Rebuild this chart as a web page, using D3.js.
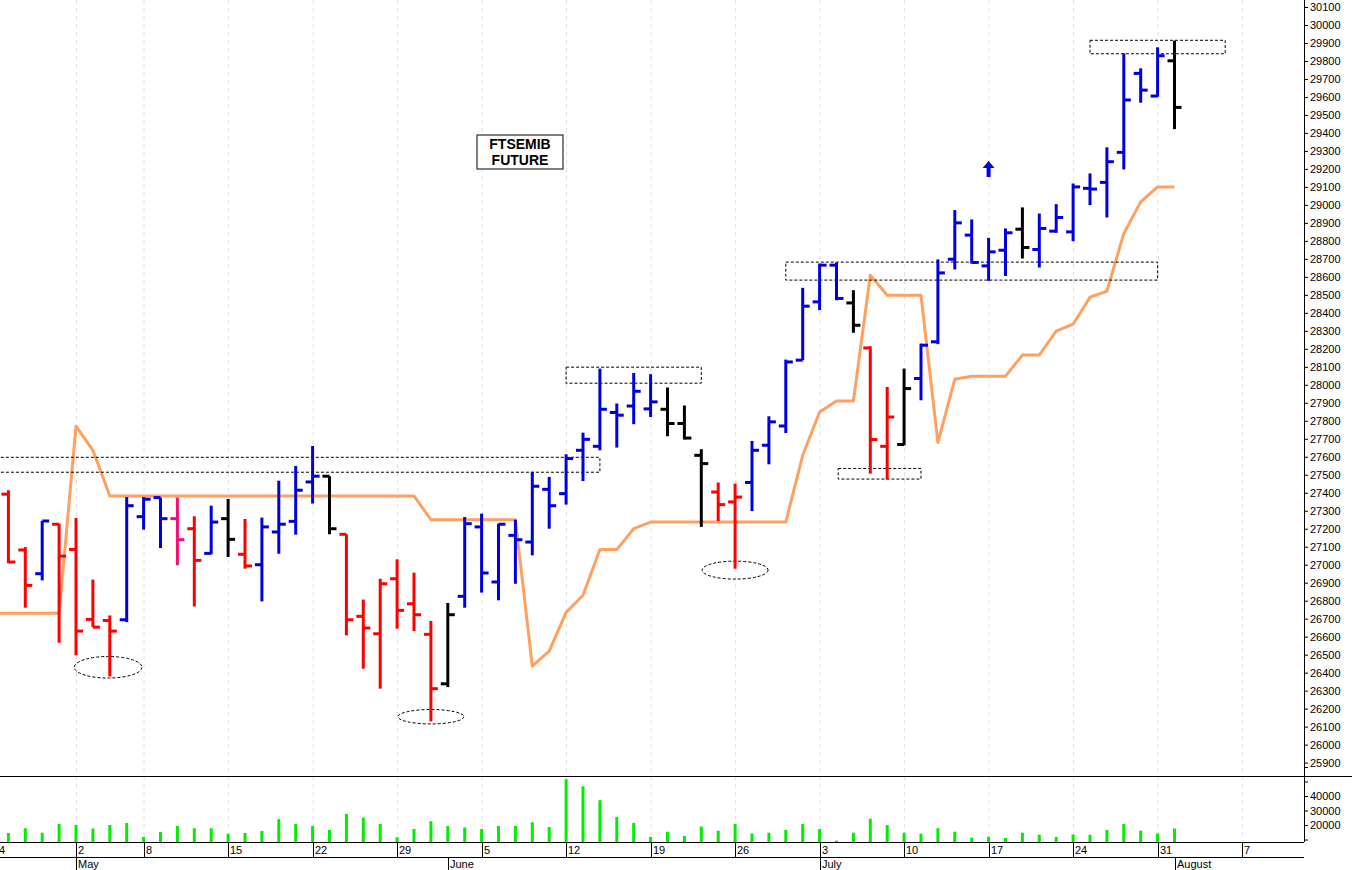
<!DOCTYPE html>
<html>
<head>
<meta charset="utf-8">
<script src="https://cdn.jsdelivr.net/npm/d3@7"></script>
<style>
body { margin: 0; background: #fff; }
text { font-family: "Liberation Sans", Arial, sans-serif; }
</style>
</head>
<body>
<div id="chart"></div>
<script>
// trading days (May 1 holiday skipped)
var dates = ["2017-04-24","2017-04-25","2017-04-26","2017-04-27","2017-04-28",
  "2017-05-02","2017-05-03","2017-05-04","2017-05-05",
  "2017-05-08","2017-05-09","2017-05-10","2017-05-11","2017-05-12",
  "2017-05-15","2017-05-16","2017-05-17","2017-05-18","2017-05-19",
  "2017-05-22","2017-05-23","2017-05-24","2017-05-25","2017-05-26",
  "2017-05-29","2017-05-30","2017-05-31","2017-06-01","2017-06-02",
  "2017-06-05","2017-06-06","2017-06-07","2017-06-08","2017-06-09",
  "2017-06-12","2017-06-13","2017-06-14","2017-06-15","2017-06-16",
  "2017-06-19","2017-06-20","2017-06-21","2017-06-22","2017-06-23",
  "2017-06-26","2017-06-27","2017-06-28","2017-06-29","2017-06-30",
  "2017-07-03","2017-07-04","2017-07-05","2017-07-06","2017-07-07",
  "2017-07-10","2017-07-11","2017-07-12","2017-07-13","2017-07-14",
  "2017-07-17","2017-07-18","2017-07-19","2017-07-20","2017-07-21",
  "2017-07-24","2017-07-25","2017-07-26","2017-07-27","2017-07-28",
  "2017-07-31","2017-08-01"];

var open  = [27400,27392,27082,26950,27225,27085,26696,26690,26694,27267,27373,27256,27200,27063,27256,27058,27000,27182,27241,27460,27492,27169,26713,26616,26922,26783,26613,26338,26824,27210,26904,27163,27126,27419,27395,27636,27658,27846,27882,27866,27864,27785,27608,27404,27349,27457,27664,27771,28137,28461,28665,28455,28205,27658,27668,28035,28239,28698,28832,28661,28748,28865,28752,28854,28850,29092,29125,29292,29731,29605,29801];
var high  = [27420,27414,27098,27243,27228,27260,26917,26718,27376,27376,27373,27373,27269,27328,27365,27254,27262,27467,27549,27660,27492,27169,26806,26922,27030,26956,26687,26787,27265,27284,27228,27250,27516,27488,27614,27734,28090,27896,28066,28059,27985,27885,27642,27457,27451,27688,27825,28140,28539,28674,28680,28526,28214,27988,28090,28229,28697,28971,28919,28817,28869,28986,28952,29004,29119,29175,29320,29842,29759,29876,29913];
var low   = [27000,27008,26761,26913,26566,26496,26653,26379,26681,27195,27093,26997,26768,27058,27043,26978,26796,27061,27167,27340,27169,26607,26422,26311,26644,26631,26129,26320,26761,26845,26802,26894,27052,27200,27334,27465,27636,27651,27781,27821,27714,27696,27210,27243,26978,27298,27558,27732,28137,28415,28470,28289,27506,27473,27664,27914,28226,28641,28674,28578,28605,28702,28652,28845,28798,28999,28930,29197,29568,29601,29421];
var close = [27390,27015,26885,27243,27048,26631,26653,26631,27328,27364,27256,27139,27024,27237,27141,26993,27210,27225,27414,27492,27200,26694,26648,26894,26746,26722,26311,26722,27228,26954,27225,27139,27436,27328,27590,27697,27864,27831,27964,27905,27785,27704,27562,27334,27376,27636,27794,28127,28437,28665,28480,28331,27696,27821,27979,28220,28622,28900,28680,28739,28845,28763,28869,28930,29100,29088,29240,29583,29638,29829,29542];
// bar colour class: b=blue r=red k=black m=magenta
var barColor = ["r","r","r","b","r","r","r","r","b","b","b","m","r","b","k","r","b","b","b","b","k","r","r","r","r","r","r","k","b","b","b","b","b","b","b","b","b","b","b","b","k","k","k","r","r","b","b","b","b","b","b","k","r","r","k","b","b","b","b","b","b","k","b","b","b","b","b","b","b","b","k"];
var volume = [15000,14500,17800,14700,20700,20000,17600,20000,21400,11800,15200,19300,17800,17800,14000,14500,15900,24100,20700,19300,16600,27700,25100,20700,11600,17300,22600,19300,18300,17300,19300,19300,21900,18600,51600,46700,37100,25500,21400,11800,15400,12500,19000,16100,20700,14200,14700,16600,20700,17300,9200,14700,24300,20000,14700,14000,17800,15400,11300,12000,11100,14700,13300,11800,13500,13300,16600,20700,16100,14200,17600];
var stopLine = [26730,26730,26730,26730,26730,27770,27636,27382,27382,27382,27382,27382,27382,27382,27382,27382,27382,27382,27382,27382,27382,27382,27382,27382,27382,27382,27250,27250,27250,27250,27250,27250,26436,26520,26735,26830,27084,27084,27200,27237,27237,27237,27237,27237,27237,27237,27237,27237,27608,27849,27910,27910,28609,28498,28498,28498,27679,28031,28048,28048,28048,28165,28165,28298,28337,28487,28520,28841,29017,29100,29100];

var priceTicks = d3.range(25900, 30101, 100);
var volTicks = [20000, 30000, 40000];
var dayLabels = [{i: 0, t: "24"}, {i: 5, t: "2"}, {i: 9, t: "8"}, {i: 14, t: "15"}, {i: 19, t: "22"}, {i: 24, t: "29"},
  {i: 29, t: "5"}, {i: 34, t: "12"}, {i: 39, t: "19"}, {i: 44, t: "26"}, {i: 49, t: "3"}, {i: 54, t: "10"},
  {i: 59, t: "17"}, {i: 64, t: "24"}, {i: 69, t: "31"}, {i: 74, t: "7"}];
var monthLabels = [{i: 5, t: "May"}, {i: 27, t: "June"}, {i: 49, t: "July"}, {i: 70, t: "August"}];
// annotation boxes: [from index, to index, price low, price high]
var boxes = [[-3, 36, 27514, 27597], [34, 42, 28009, 28098], [47, 69, 28582, 28682], [50.1, 55, 27476, 27535], [65, 73, 29840, 29915]];
// ellipses: [center index, price, half width in days, half height in price]
var ovals = [[6.9, 26430, 2, 60], [26, 26155, 1.95, 40], [44, 26970, 1.95, 50]];

var W = 1352, H = 870, plotRight = 1304;
var colors = {b: "#0000dd", r: "#ff0000", k: "#000000", m: "#ee1177"};

var x = d3.scaleLinear().domain([5, 70]).range([76, 1174.5]);
var y = d3.scaleLinear().domain([25900, 30100]).range([762.6, 7]);
var yv = d3.scaleLinear().domain([8300, 40000]).range([842, 796]);

var svg = d3.select("#chart").append("svg").attr("width", W).attr("height", H);

svg.append("clipPath").attr("id", "clipP").append("rect").attr("x", 0).attr("y", 0).attr("width", plotRight).attr("height", 776);
svg.append("clipPath").attr("id", "clipV").append("rect").attr("x", 0).attr("y", 776).attr("width", plotRight).attr("height", 66);

var weekIdx = dayLabels.map(function (d) { return d.i; });

// weekly grid
svg.append("g").selectAll("line").data(weekIdx).enter().append("line")
    .attr("x1", function (d) { return x(d) + 0.5; }).attr("x2", function (d) { return x(d) + 0.5; })
    .attr("y1", 0).attr("y2", 842)
    .attr("stroke", "#dde0e8").attr("stroke-dasharray", "4,4");

var price = svg.append("g").attr("clip-path", "url(#clipP)");

// orange stop line
price.append("path").datum(stopLine)
    .attr("fill", "none").attr("stroke", "#ffa060").attr("stroke-width", 3).attr("stroke-linejoin", "round")
    .attr("d", d3.line().x(function (d, i) { return x(i); }).y(function (d) { return y(d); }));

// annotation boxes
price.selectAll(".box").data(boxes).enter().append("rect")
    .attr("x", function (d) { return x(d[0]); })
    .attr("y", function (d) { return y(d[3]); })
    .attr("width", function (d) { return x(d[1]) - x(d[0]); })
    .attr("height", function (d) { return y(d[2]) - y(d[3]); })
    .attr("fill", "none").attr("stroke", "#000").attr("stroke-dasharray", "3,2");

price.selectAll(".oval").data(ovals).enter().append("ellipse")
    .attr("cx", function (d) { return x(d[0]); })
    .attr("cy", function (d) { return y(d[1]); })
    .attr("rx", function (d) { return x(d[2]) - x(0); })
    .attr("ry", function (d) { return y(0) - y(d[3]); })
    .attr("fill", "none").attr("stroke", "#000").attr("stroke-dasharray", "3,2");

// OHLC bars
var bars = price.selectAll(".bar").data(dates).enter().append("g")
    .attr("stroke", function (d, i) { return colors[barColor[i]]; })
    .attr("stroke-width", 3);
bars.append("line")
    .attr("x1", function (d, i) { return x(i); }).attr("x2", function (d, i) { return x(i); })
    .attr("y1", function (d, i) { return y(high[i]); }).attr("y2", function (d, i) { return y(low[i]); });
bars.append("line")
    .attr("x1", function (d, i) { return x(i) - 7; }).attr("x2", function (d, i) { return x(i); })
    .attr("y1", function (d, i) { return y(open[i]); }).attr("y2", function (d, i) { return y(open[i]); });
bars.append("line")
    .attr("x1", function (d, i) { return x(i); }).attr("x2", function (d, i) { return x(i) + 7; })
    .attr("y1", function (d, i) { return y(close[i]); }).attr("y2", function (d, i) { return y(close[i]); });

// up arrow
price.append("path")
    .attr("transform", "translate(" + x(59) + "," + y(29200) + ")")
    .attr("d", "M0,-8 L6,-1 L2,-1 L2,8 L-2,8 L-2,-1 L-6,-1 Z")
    .attr("fill", "#0000ee");

// title box
var tb = svg.append("g").attr("transform", "translate(520,152)");
tb.append("rect").attr("x", -43).attr("y", -17).attr("width", 86).attr("height", 34)
    .attr("fill", "#fff").attr("stroke", "#000");
tb.append("text").attr("text-anchor", "middle").attr("y", -3).attr("font-size", 14).attr("font-weight", "bold").text("FTSEMIB");
tb.append("text").attr("text-anchor", "middle").attr("y", 13).attr("font-size", 14).attr("font-weight", "bold").text("FUTURE");

// price axis
svg.append("g").attr("transform", "translate(" + plotRight + ",0)")
    .call(d3.axisRight(y).tickValues(priceTicks).tickSize(4).tickFormat(d3.format("d")))
    .call(function (g) {
        g.select(".domain").attr("d", "M0.5,0V776");
        g.selectAll("text").attr("font-size", 11).attr("font-family", "Liberation Sans, Arial").attr("x", 6);
    });

// volume panel
svg.append("line").attr("x1", 0).attr("x2", W).attr("y1", 776.5).attr("y2", 776.5).attr("stroke", "#000");
svg.append("g").attr("clip-path", "url(#clipV)").selectAll("line").data(volume).enter().append("line")
    .attr("x1", function (d, i) { return x(i); }).attr("x2", function (d, i) { return x(i); })
    .attr("y1", yv(8300)).attr("y2", function (d) { return yv(d); })
    .attr("stroke", "#00ee00").attr("stroke-width", 3);
svg.append("g").attr("transform", "translate(" + plotRight + ",0)")
    .call(d3.axisRight(yv).tickValues([10000, 20000, 30000, 40000, 50000, 60000]).tickSize(4)
        .tickFormat(function (d) { return volTicks.indexOf(d) >= 0 ? d : ""; }))
    .call(function (g) {
        g.select(".domain").attr("d", "M0.5,776V842");
        g.selectAll("text").attr("font-size", 11).attr("font-family", "Liberation Sans, Arial").attr("x", 6);
    });

// date axis
svg.append("line").attr("x1", 0).attr("x2", plotRight).attr("y1", 842.5).attr("y2", 842.5).attr("stroke", "#000");
svg.append("line").attr("x1", 0).attr("x2", plotRight).attr("y1", 857.5).attr("y2", 857.5).attr("stroke", "#000");
var dl = svg.append("g").selectAll("g").data(dayLabels).enter().append("g")
    .attr("transform", function (d) { return "translate(" + Math.round(x(d.i)) + ",0)"; });
dl.append("line").attr("x1", 0.5).attr("x2", 0.5).attr("y1", 842).attr("y2", 857).attr("stroke", "#000");
dl.append("text").attr("x", 2).attr("y", 854).attr("font-size", 11).text(function (d) { return d.t; });
var ml = svg.append("g").selectAll("g").data(monthLabels).enter().append("g")
    .attr("transform", function (d) { return "translate(" + Math.round(x(d.i)) + ",0)"; });
ml.append("line").attr("x1", 0.5).attr("x2", 0.5).attr("y1", 857).attr("y2", 870).attr("stroke", "#000");
ml.append("text").attr("x", 2).attr("y", 868).attr("font-size", 11).text(function (d) { return d.t; });
</script>
</body>
</html>
